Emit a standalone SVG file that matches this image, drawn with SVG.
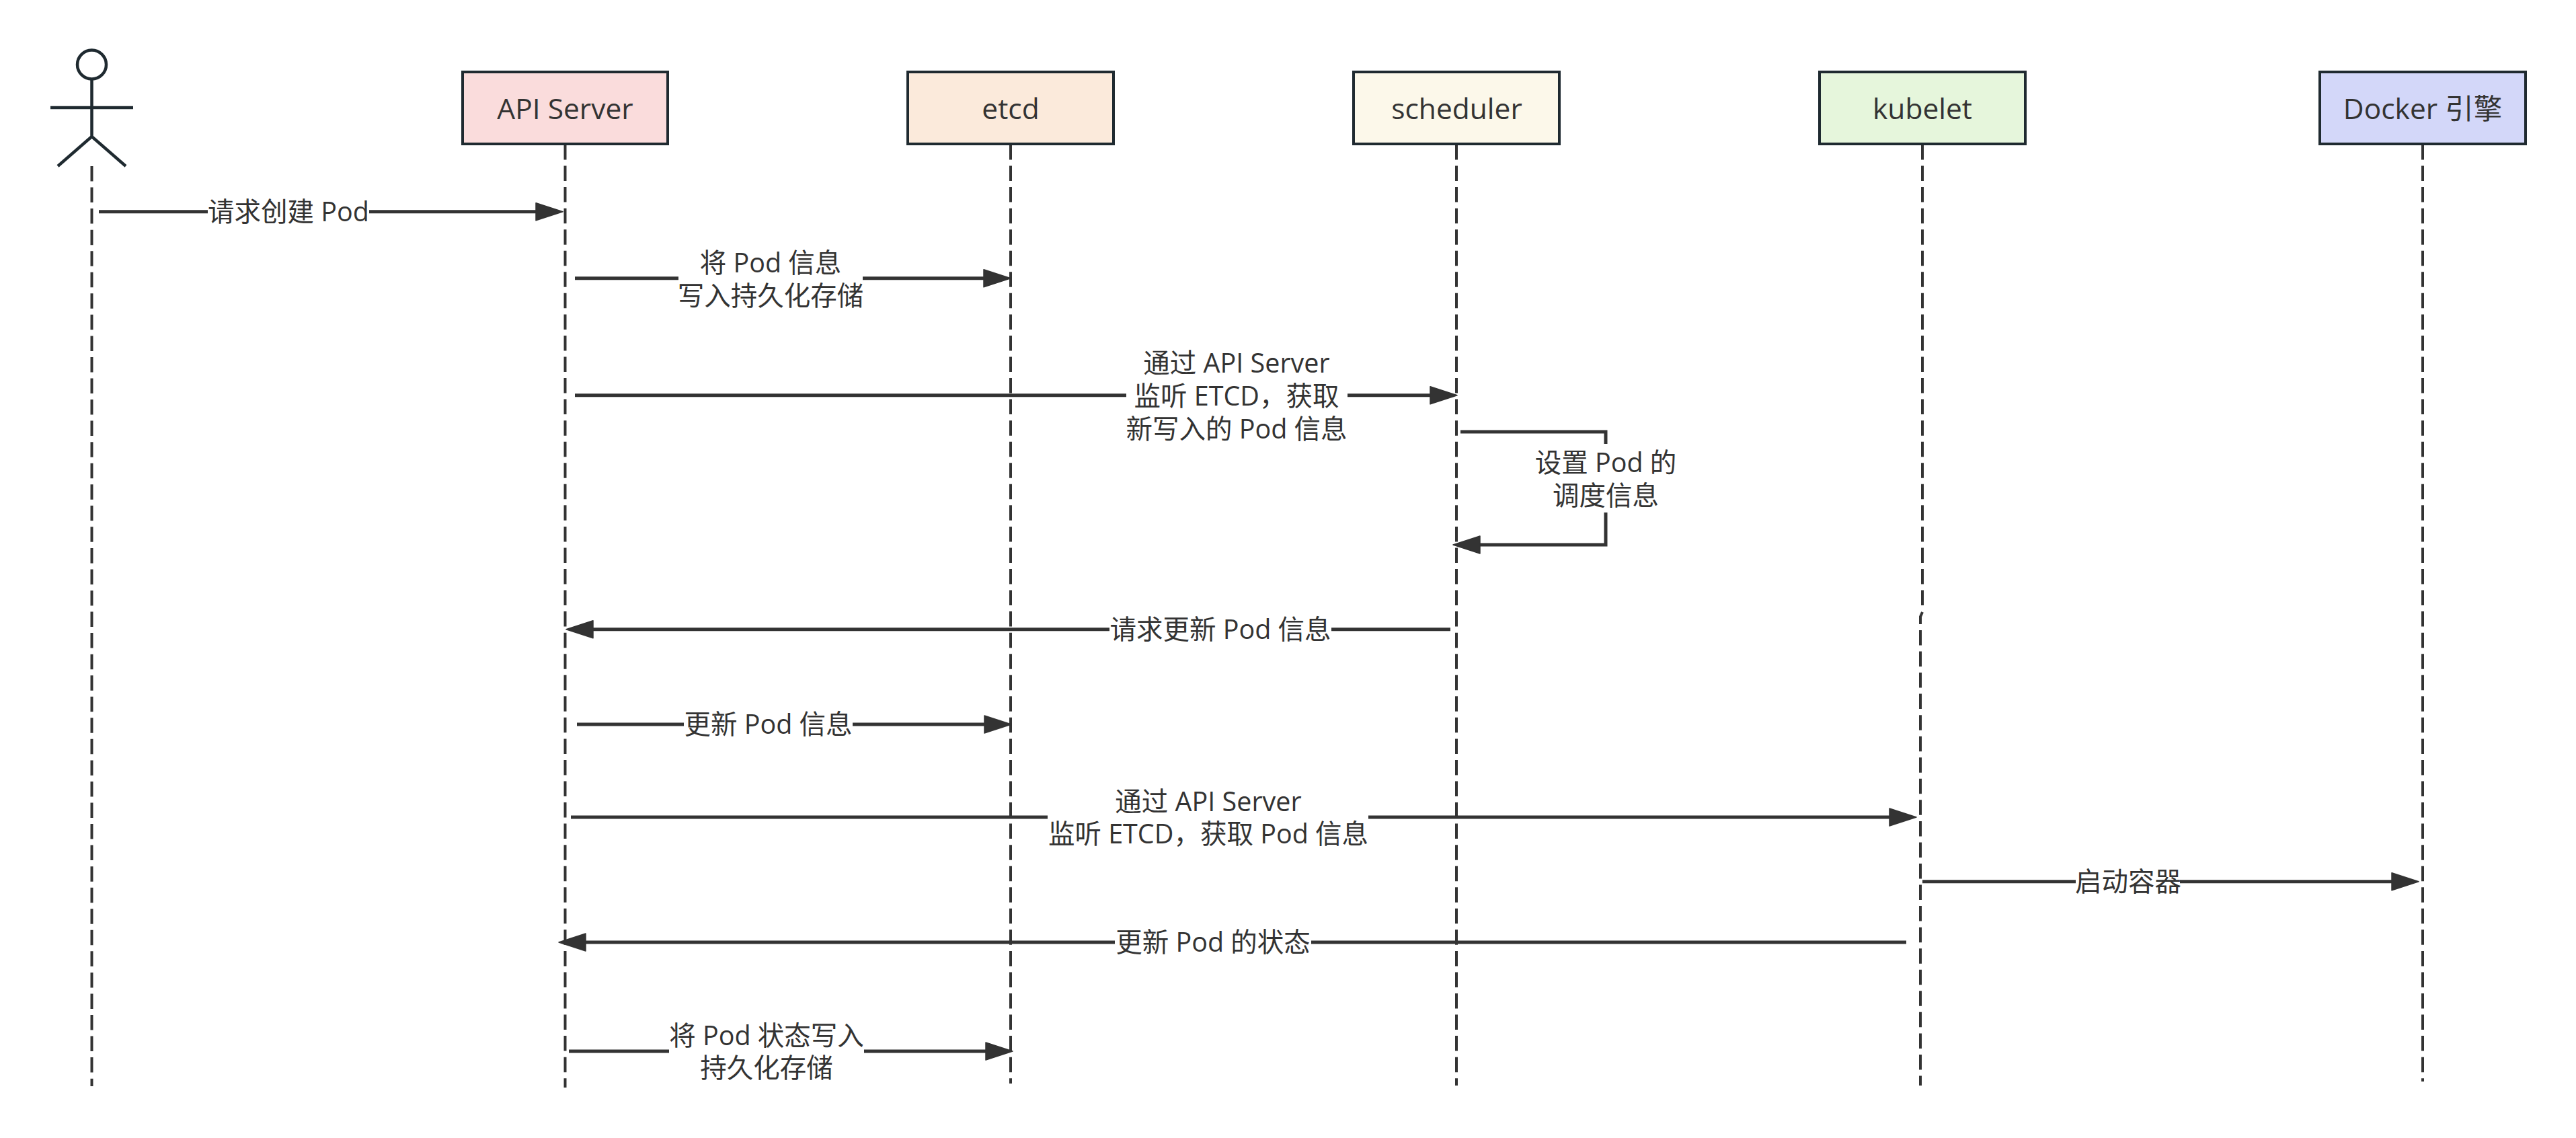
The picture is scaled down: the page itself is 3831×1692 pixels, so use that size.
<svg xmlns="http://www.w3.org/2000/svg" width="3831" height="1692" viewBox="0 0 3831 1692">
<defs>
<style>
text{font-family:"Open Sans","Noto Sans CJK SC",sans-serif;font-size:39.500px;fill:#333;text-anchor:middle}
.name{font-size:42.500px}
.box{stroke:#1f2a30;stroke-width:4}
.life{fill:none;stroke:#333;stroke-width:4;stroke-dasharray:22.5 9.05}
.actor{fill:none;stroke:#1f2a30;stroke-width:4.5}
.msg{fill:none;stroke:#333;stroke-width:5;marker-end:url(#arrow)}
</style>
<marker id="arrow" markerUnits="userSpaceOnUse" markerWidth="44" markerHeight="32" refX="30" refY="16" orient="auto">
<path d="M1,3 L41,16 L1,29 Z" fill="#333" stroke="#333" stroke-width="1.500" stroke-linejoin="round"/>
</marker>
</defs>
<rect width="3831" height="1692" fill="#fff"/>
<g id="actor-user">
<circle class="actor" cx="136.500" cy="96" r="21.500"/>
<path class="actor" d="M136.500,118 V203 M75,160 H198 M86,247 L136.500,203 L187,247"/>
<path class="life" d="M136.500,247 V1615"/>
</g>
<g id="node-api-server">
<path class="life" d="M840.500,215 V1617"/>
<rect class="box" x="688" y="107" width="305" height="107" fill="#fadcdc"/>
<text class="name" x="840.500" y="177">API Server</text>
</g>
<g id="node-etcd">
<path class="life" d="M1503,215 V1611"/>
<rect class="box" x="1350" y="107" width="306" height="107" fill="#fbeadb"/>
<text class="name" x="1503" y="177">etcd</text>
</g>
<g id="node-scheduler">
<path class="life" d="M2166,215 V1614"/>
<rect class="box" x="2013" y="107" width="306" height="107" fill="#fcf8ea"/>
<text class="name" x="2166.500" y="177">scheduler</text>
</g>
<g id="node-kubelet">
<path class="life" d="M2859,215 V909"/>
<path class="life" style="stroke-dashoffset:4" d="M2859,910 L2856,917 V1614"/>
<rect class="box" x="2706" y="107" width="306" height="107" fill="#e6f6dc"/>
<text class="name" x="2859" y="177">kubelet</text>
</g>
<g id="node-docker">
<path class="life" d="M3603,215 V1608"/>
<rect class="box" x="3450" y="107" width="306" height="107" fill="#d3d7f9"/>
<text class="name" x="3603" y="177">Docker 引擎</text>
</g>
<g id="connectors">
<path class="msg" d="M147,314.700 H309 M549,314.700 H826"/>
<text x="429" y="329">请求创建 Pod</text>

<path class="msg" d="M855,413.700 H1009 M1283,413.700 H1492"/>
<text x="1146" y="405">将 Pod 信息</text>
<text x="1146" y="454">写入持久化存储</text>

<path class="msg" d="M855,587.700 H1675 M2004,587.700 H2156"/>
<text x="1839" y="554">通过 API Server</text>
<text x="1839" y="603">监听 ETCD，获取</text>
<text x="1839" y="652">新写入的 Pod 信息</text>

<path class="msg" d="M2172,642 H2388 V660 M2388,762 V810 H2172"/>
<text x="2388" y="702">设置 Pod 的</text>
<text x="2388" y="751">调度信息</text>

<path class="msg" d="M2157,935.700 H1980 M1650,935.700 H853"/>
<text x="1815" y="950">请求更新 Pod 信息</text>

<path class="msg" d="M858,1077 H1017 M1268,1077 H1493"/>
<text x="1142.500" y="1091">更新 Pod 信息</text>

<path class="msg" d="M849,1215 H1558 M2035,1215 H2839"/>
<text x="1797" y="1206">通过 API Server</text>
<text x="1797" y="1254">监听 ETCD，获取 Pod 信息</text>

<path class="msg" d="M2859,1310.700 H3087 M3242,1310.700 H3586"/>
<text x="3165" y="1325">启动容器</text>

<path class="msg" d="M2835,1401 H1950 M1658,1401 H842"/>
<text x="1804" y="1415">更新 Pod 的状态</text>

<path class="msg" d="M846,1563 H995 M1285,1563 H1495"/>
<text x="1140" y="1554">将 Pod 状态写入</text>
<text x="1140" y="1602">持久化存储</text>
</g>
</svg>
